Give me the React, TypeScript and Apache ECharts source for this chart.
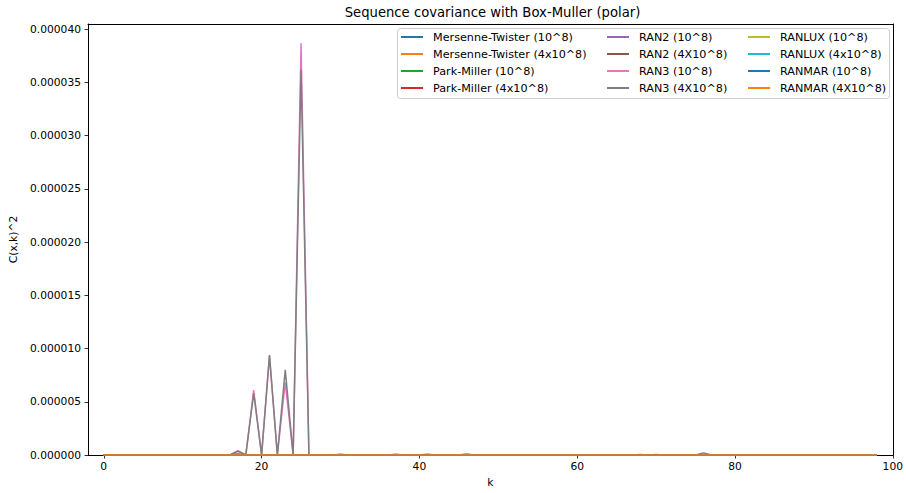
import React, { useEffect, useRef } from "react";
import * as echarts from "echarts";

// k values 0..98
const kValues: number[] = Array.from({ length: 99 }, (_, i) => i);

// Series values in units of 1e-6
const mersenne1: number[] = [
  0, 0, 0, 0, 0, 0, 0, 0, 0, 0,
  0, 0, 0, 0, 0, 0, 0, 0, 0, 0,
  0, 0, 0, 0, 0, 0, 0, 0, 0, 0,
  0, 0, 0, 0, 0, 0, 0, 0, 0, 0,
  0, 0.08, 0, 0, 0, 0, 0, 0, 0, 0,
  0, 0, 0, 0, 0, 0, 0, 0, 0, 0,
  0, 0, 0, 0, 0, 0, 0, 0, 0, 0,
  0, 0, 0, 0, 0, 0, 0, 0, 0, 0,
  0, 0, 0, 0, 0, 0, 0, 0, 0, 0,
  0, 0, 0, 0, 0, 0, 0, 0, 0,
];
const mersenne4: number[] = [
  0, 0, 0, 0, 0, 0, 0, 0, 0, 0,
  0, 0, 0, 0, 0, 0, 0, 0, 0, 0,
  0, 0, 0, 0, 0, 0, 0, 0, 0, 0,
  0, 0, 0, 0, 0, 0, 0, 0, 0, 0,
  0, 0, 0, 0, 0, 0, 0, 0, 0, 0,
  0, 0, 0, 0, 0, 0, 0, 0, 0, 0,
  0, 0, 0, 0, 0, 0, 0, 0, 0, 0,
  0, 0, 0, 0, 0, 0, 0, 0, 0, 0,
  0, 0, 0, 0, 0, 0, 0, 0, 0, 0,
  0, 0, 0, 0, 0, 0, 0, 0, 0,
];
const parkMiller1: number[] = [
  0, 0, 0, 0, 0, 0, 0, 0, 0, 0,
  0, 0, 0, 0, 0, 0, 0, 0, 0, 0,
  0, 0, 0, 0, 0, 0, 0, 0, 0, 0,
  0.08, 0, 0, 0, 0, 0, 0, 0, 0, 0,
  0, 0, 0, 0, 0, 0, 0, 0, 0, 0,
  0, 0, 0, 0, 0, 0, 0, 0, 0, 0,
  0, 0, 0, 0, 0, 0, 0, 0, 0, 0,
  0, 0, 0, 0, 0, 0, 0, 0, 0, 0,
  0, 0, 0, 0, 0, 0, 0, 0, 0, 0,
  0, 0, 0, 0, 0, 0, 0, 0, 0,
];
const parkMiller4: number[] = [
  0, 0, 0, 0, 0, 0, 0, 0, 0, 0,
  0, 0, 0, 0, 0, 0, 0, 0.1, 0, 0,
  0, 0, 0, 0, 0, 0, 0, 0, 0, 0,
  0, 0, 0, 0, 0, 0, 0, 0, 0, 0,
  0, 0, 0, 0, 0, 0, 0, 0, 0, 0,
  0, 0, 0, 0, 0, 0, 0, 0, 0, 0,
  0, 0, 0, 0, 0, 0, 0, 0, 0, 0,
  0, 0, 0, 0, 0, 0, 0, 0, 0, 0,
  0, 0, 0, 0, 0, 0, 0, 0, 0, 0,
  0, 0, 0, 0, 0, 0, 0, 0, 0,
];
const ran2_1: number[] = [
  0, 0, 0, 0, 0, 0, 0, 0, 0, 0,
  0, 0, 0, 0, 0, 0, 0, 0, 0, 0,
  0, 0, 0, 0, 0, 0, 0, 0, 0, 0,
  0, 0, 0, 0, 0, 0, 0, 0.08, 0, 0,
  0, 0, 0, 0, 0, 0, 0.1, 0, 0, 0,
  0, 0, 0, 0, 0, 0, 0, 0, 0, 0,
  0, 0, 0, 0, 0, 0, 0, 0, 0, 0,
  0, 0, 0, 0, 0, 0, 0.2, 0, 0, 0,
  0, 0, 0, 0, 0, 0, 0, 0, 0, 0,
  0, 0, 0, 0, 0, 0, 0, 0, 0,
];
const ran2_4: number[] = [
  0, 0, 0, 0, 0, 0, 0, 0, 0, 0,
  0, 0, 0, 0, 0, 0, 0, 0, 0, 0,
  0, 0, 0, 0, 0, 0, 0, 0, 0, 0,
  0, 0, 0, 0, 0, 0, 0, 0, 0, 0,
  0, 0, 0, 0, 0, 0, 0, 0, 0, 0,
  0, 0, 0, 0, 0, 0, 0, 0, 0, 0,
  0, 0, 0, 0, 0, 0, 0, 0, 0, 0,
  0, 0, 0, 0, 0, 0, 0, 0, 0, 0,
  0, 0, 0, 0, 0, 0, 0, 0, 0, 0,
  0, 0, 0, 0, 0, 0, 0, 0, 0,
];
const ran3_1: number[] = [
  0, 0, 0, 0, 0, 0, 0, 0, 0, 0,
  0, 0, 0, 0, 0, 0, 0, 0.4, 0, 6.1,
  0, 9.3, 0, 6.8, 0, 38.7, 0, 0, 0, 0,
  0, 0, 0, 0, 0, 0, 0, 0, 0, 0,
  0, 0, 0, 0, 0, 0, 0, 0, 0, 0,
  0, 0, 0, 0, 0, 0, 0, 0, 0, 0,
  0, 0, 0, 0, 0, 0, 0, 0, 0, 0,
  0, 0, 0, 0, 0, 0, 0, 0, 0, 0,
  0, 0, 0, 0, 0, 0, 0, 0, 0, 0,
  0, 0, 0, 0, 0, 0, 0, 0, 0,
];
const ran3_4: number[] = [
  0, 0, 0, 0, 0, 0, 0, 0, 0, 0,
  0, 0, 0, 0, 0, 0, 0, 0.35, 0, 5.8,
  0, 9.4, 0, 8.0, 0, 36.2, 0, 0, 0, 0,
  0, 0, 0, 0, 0, 0, 0, 0, 0, 0,
  0, 0, 0, 0, 0, 0, 0, 0, 0, 0,
  0, 0, 0, 0, 0, 0, 0, 0, 0, 0,
  0, 0, 0, 0, 0, 0, 0, 0, 0.05, 0,
  0.05, 0, 0, 0, 0, 0, 0, 0, 0, 0,
  0, 0, 0, 0, 0, 0, 0, 0, 0, 0,
  0, 0, 0, 0, 0, 0, 0, 0, 0,
];
const ranlux1: number[] = [
  0, 0, 0, 0, 0, 0, 0, 0, 0, 0,
  0, 0, 0, 0, 0, 0, 0, 0, 0, 0,
  0, 0, 0, 0, 0, 0, 0, 0, 0, 0,
  0, 0, 0, 0, 0, 0, 0, 0, 0, 0,
  0, 0, 0, 0, 0, 0, 0, 0, 0, 0,
  0, 0, 0, 0, 0, 0, 0, 0, 0, 0,
  0, 0, 0, 0, 0, 0, 0, 0, 0, 0,
  0, 0, 0, 0, 0, 0, 0, 0, 0, 0,
  0, 0, 0, 0, 0, 0, 0, 0, 0, 0,
  0, 0, 0, 0, 0, 0, 0, 0, 0,
];
const ranlux4: number[] = [
  0, 0, 0, 0, 0, 0, 0, 0, 0, 0,
  0, 0, 0, 0, 0, 0, 0, 0, 0, 0,
  0, 0, 0, 0, 0, 0, 0, 0, 0, 0,
  0, 0, 0, 0, 0, 0, 0, 0, 0, 0,
  0, 0, 0, 0, 0, 0, 0, 0, 0, 0,
  0, 0, 0, 0, 0, 0, 0, 0, 0, 0,
  0, 0, 0, 0, 0, 0, 0, 0, 0, 0,
  0, 0, 0, 0, 0, 0, 0, 0, 0, 0,
  0, 0, 0, 0, 0, 0, 0, 0, 0, 0,
  0, 0, 0, 0, 0, 0, 0, 0, 0,
];
const ranmar1: number[] = [
  0, 0, 0, 0, 0, 0, 0, 0, 0, 0,
  0, 0, 0, 0, 0, 0, 0, 0, 0, 0,
  0, 0, 0, 0, 0, 0, 0, 0, 0, 0,
  0, 0, 0, 0, 0, 0, 0, 0, 0, 0,
  0, 0, 0, 0, 0, 0, 0, 0, 0, 0,
  0, 0, 0, 0, 0, 0, 0, 0, 0, 0,
  0, 0, 0, 0, 0, 0, 0, 0, 0, 0,
  0, 0, 0, 0, 0, 0, 0, 0, 0, 0,
  0, 0, 0, 0, 0, 0, 0, 0, 0, 0,
  0, 0, 0, 0, 0, 0, 0, 0, 0,
];
const ranmar4: number[] = [
  0, 0, 0, 0, 0, 0, 0, 0, 0, 0,
  0, 0, 0, 0, 0, 0, 0, 0, 0, 0,
  0, 0, 0, 0, 0, 0, 0, 0, 0, 0,
  0, 0, 0, 0, 0, 0, 0, 0, 0, 0,
  0, 0, 0, 0, 0, 0, 0, 0, 0, 0,
  0, 0, 0, 0, 0, 0, 0, 0, 0, 0,
  0, 0, 0, 0, 0, 0, 0, 0, 0, 0,
  0, 0, 0, 0, 0, 0, 0, 0, 0, 0,
  0, 0, 0, 0, 0, 0, 0, 0, 0, 0,
  0, 0, 0, 0, 0, 0, 0, 0, 0,
];

const seriesNames: string[] = [
  "Mersenne-Twister (10^8)",
  "Mersenne-Twister (4x10^8)",
  "Park-Miller (10^8)",
  "Park-Miller (4x10^8)",
  "RAN2 (10^8)",
  "RAN2 (4X10^8)",
  "RAN3 (10^8)",
  "RAN3 (4X10^8)",
  "RANLUX (10^8)",
  "RANLUX (4x10^8)",
  "RANMAR (10^8)",
  "RANMAR (4X10^8)",
];
const seriesValues: number[][] = [
  mersenne1, mersenne4, parkMiller1, parkMiller4, ran2_1, ran2_4,
  ran3_1, ran3_4, ranlux1, ranlux4, ranmar1, ranmar4,
];
const colors: string[] = [
  "#1f77b4", "#ff7f0e", "#2ca02c", "#d62728", "#9467bd", "#8c564b",
  "#e377c2", "#7f7f7f", "#bcbd22", "#17becf", "#1f77b4", "#ff7f0e",
];

const xTicks: number[] = [0, 20, 40, 60, 80, 100];
const yTicks: number[] = [0, 5e-6, 10e-6, 15e-6, 20e-6, 25e-6, 30e-6, 35e-6, 40e-6];

const FONT = "DejaVu Sans";
const X_MIN = -2;
const X_MAX = 100;
const Y_MIN = 0;
const Y_MAX = 4.05e-5;

export default function App() {
  const ref = useRef<HTMLDivElement>(null);
  useEffect(() => {
    if (!ref.current) return;
    const chart = echarts.init(ref.current, null, { renderer: "svg" });
    const legendCols = [0, 1, 2].map((c) => ({
      show: true,
      orient: "vertical" as const,
      left: [401, 607, 748][c],
      top: 31,
      padding: 0,
      itemGap: 5,
      itemWidth: 22,
      itemHeight: 2,
      icon: "rect",
      z: 10,
      data: seriesNames.slice(c * 4, c * 4 + 4),
      textStyle: {
        fontFamily: FONT,
        fontSize: 11.2,
        color: "#000",
        lineHeight: 12,
        padding: [0, 0, 0, 5],
      },
      selectedMode: false,
    }));
    const frameAxis = {
      type: "value" as const,
      axisLine: { show: true, onZero: false, lineStyle: { color: "#000", width: 1 } },
      axisTick: { show: false },
      axisLabel: { show: false },
      splitLine: { show: false },
    };
    chart.setOption({
      animation: false,
      color: colors,
      grid: {
        left: 88,
        right: 9,
        top: 24,
        bottom: 38,
      },
      graphic: [
        {
          type: "text",
          x: 492.5,
          y: 12,
          style: {
            text: "Sequence covariance with Box-Muller (polar)",
            textAlign: "center",
            textVerticalAlign: "middle",
            fontFamily: FONT,
            fontSize: 13.2,
            fill: "#000",
          },
        },
        {
          type: "rect",
          z: 3,
          shape: { x: 397.5, y: 28.5, width: 492, height: 70, r: 3 },
          style: { fill: "rgba(255,255,255,0.8)", stroke: "#cccccc", lineWidth: 1 },
        },
      ],
      legend: legendCols,
      xAxis: [
        {
          type: "value",
          min: X_MIN,
          max: X_MAX,
          position: "bottom",
          name: "k",
          nameLocation: "middle",
          nameGap: 22,
          nameTextStyle: { fontFamily: FONT, fontSize: 10.7, color: "#000" },
          axisLine: { show: true, onZero: false, lineStyle: { color: "#000", width: 1 } },
          splitLine: { show: false },
          axisTick: {
            show: true,
            inside: false,
            length: 3.5,
            customValues: xTicks,
            lineStyle: { color: "#000", width: 0.8 },
          },
          axisLabel: {
            customValues: xTicks,
            fontFamily: FONT,
            fontSize: 10.7,
            color: "#000",
            margin: 6,
            formatter: (v: number) => String(v),
          },
        },
        { ...frameAxis, min: X_MIN, max: X_MAX, position: "top" },
      ],
      yAxis: [
        {
          type: "value",
          min: Y_MIN,
          max: Y_MAX,
          position: "left",
          name: "C(x,k)^2",
          nameLocation: "middle",
          nameGap: 58,
          nameTextStyle: { fontFamily: FONT, fontSize: 10.7, color: "#000" },
          axisLine: { show: true, onZero: false, lineStyle: { color: "#000", width: 1 } },
          splitLine: { show: false },
          axisTick: {
            show: true,
            inside: false,
            length: 3.5,
            customValues: yTicks,
            lineStyle: { color: "#000", width: 0.8 },
          },
          axisLabel: {
            customValues: yTicks,
            fontFamily: FONT,
            fontSize: 10.7,
            color: "#000",
            margin: 7,
            formatter: (v: number) => v.toFixed(6),
          },
        },
        { ...frameAxis, min: Y_MIN, max: Y_MAX, position: "right" },
      ],
      series: seriesNames.map((name, i) => ({
        name,
        type: "line",
        xAxisIndex: 0,
        yAxisIndex: 0,
        showSymbol: false,
        symbol: "none",
        lineStyle: { width: 1.5, color: colors[i] },
        itemStyle: { color: colors[i] },
        data: kValues.map((k, j) => [k, seriesValues[i][j] * 1e-6]),
        z: 2,
      })),
    });
    return () => chart.dispose();
  }, []);
  return (
    <div
      ref={ref}
      style={{ position: "fixed", left: 0, top: 0, width: 906, height: 493, background: "#fff" }}
    />
  );
}
